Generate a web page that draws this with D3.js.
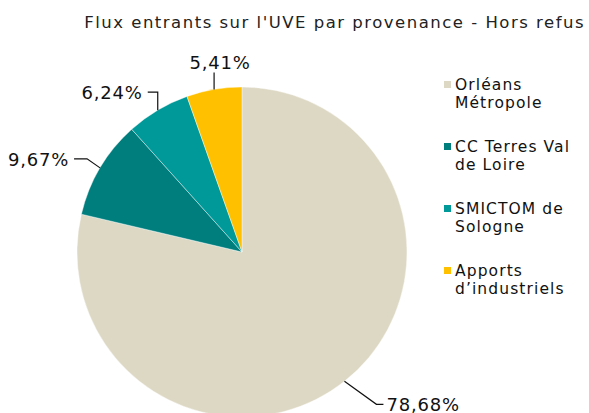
<!doctype html>
<html>
<head>
<meta charset="utf-8">
<script src="https://cdnjs.cloudflare.com/ajax/libs/d3/7.8.5/d3.min.js"></script>
<style>
  body { margin: 0; background: #fff; }
  svg { font-family: "DejaVu Sans", sans-serif; display: block; }
</style>
</head>
<body>
<svg width="589" height="413"></svg>
<script>
// data
var categories = ["Orléans Métropole", "CC Terres Val de Loire", "SMICTOM de Sologne", "Apports d'industriels"];
var legendLines = [["Orléans", "Métropole"], ["CC Terres Val", "de Loire"], ["SMICTOM de", "Sologne"], ["Apports", "d\u2019industriels"]];
var values = [78.68, 9.67, 6.24, 5.41];
var colors = ["#ddd8c4", "#007e7e", "#009999", "#ffc000"];

// leader line layout: [dx, dy] elbow from arc point, horizontal length
var leaders = [
  { elbow: [32, 23], run: 7 },
  { elbow: [-13, -9], run: -13 },
  { elbow: [0, -18], run: -10 },
  { elbow: [0, -17], run: 0 }
];

var svg = d3.select("svg");
var cx = 242, cy = 252, r = 165;

svg.append("text")
  .attr("x", 585).attr("y", 28)
  .attr("text-anchor", "end")
  .attr("font-size", 16.5)
  .attr("letter-spacing", 1.5)
  .attr("fill", "#222")
  .text("Flux entrants sur l'UVE par provenance - Hors refus");

var pie = d3.pie().sort(null).value(d => d);
var arcs = pie(values);
var arc = d3.arc().innerRadius(0).outerRadius(r);

var g = svg.append("g").attr("transform", "translate(" + cx + "," + cy + ")");

g.selectAll("path.slice")
  .data(arcs)
  .enter()
  .append("path")
    .attr("class", "slice")
    .attr("d", arc)
    .attr("fill", (d, i) => colors[i])
    .attr("stroke", "#fff")
    .attr("stroke-width", 0.4);

var fmt = v => v.toFixed(2).replace(".", ",") + "%";

arcs.forEach(function(d, i) {
  var a = (d.startAngle + d.endAngle) / 2;
  var p0 = [r * Math.sin(a), -r * Math.cos(a)];
  var L = leaders[i];
  var p1 = [p0[0] + L.elbow[0], p0[1] + L.elbow[1]];
  var p2 = [p1[0] + L.run, p1[1]];
  g.append("polyline")
    .attr("points", [p0, p1, p2].map(p => p.join(",")).join(" "))
    .attr("fill", "none")
    .attr("stroke", "#111")
    .attr("stroke-width", 1.2);
  var t = g.append("text")
    .attr("font-size", 18)
    .attr("letter-spacing", 0.8)
    .attr("fill", "#111")
    .text(fmt(d.data));
  if (L.run > 0) {
    t.attr("x", p2[0] + 3).attr("y", p2[1] + 7).attr("text-anchor", "start");
  } else if (L.run < 0) {
    t.attr("x", p2[0] - 5).attr("y", p2[1] + 7).attr("text-anchor", "end");
  } else {
    t.attr("x", p2[0] + 6).attr("y", p2[1] - 3).attr("text-anchor", "middle");
  }
});

var legend = svg.append("g").attr("transform", "translate(444,81)");
var item = legend.selectAll("g")
  .data(categories)
  .enter()
  .append("g")
    .attr("transform", (d, i) => "translate(0," + i * 62 + ")");
item.append("rect")
  .attr("width", 7).attr("height", 7)
  .attr("fill", (d, i) => colors[i]);
item.each(function(d, i) {
  var txt = d3.select(this).append("text")
    .attr("font-size", 15.5)
    .attr("letter-spacing", 1.1)
    .attr("fill", "#111");
  legendLines[i].forEach(function(line, j) {
    txt.append("tspan").attr("x", 11).attr("y", 9 + j * 18).text(line);
  });
});
</script>
</body>
</html>
